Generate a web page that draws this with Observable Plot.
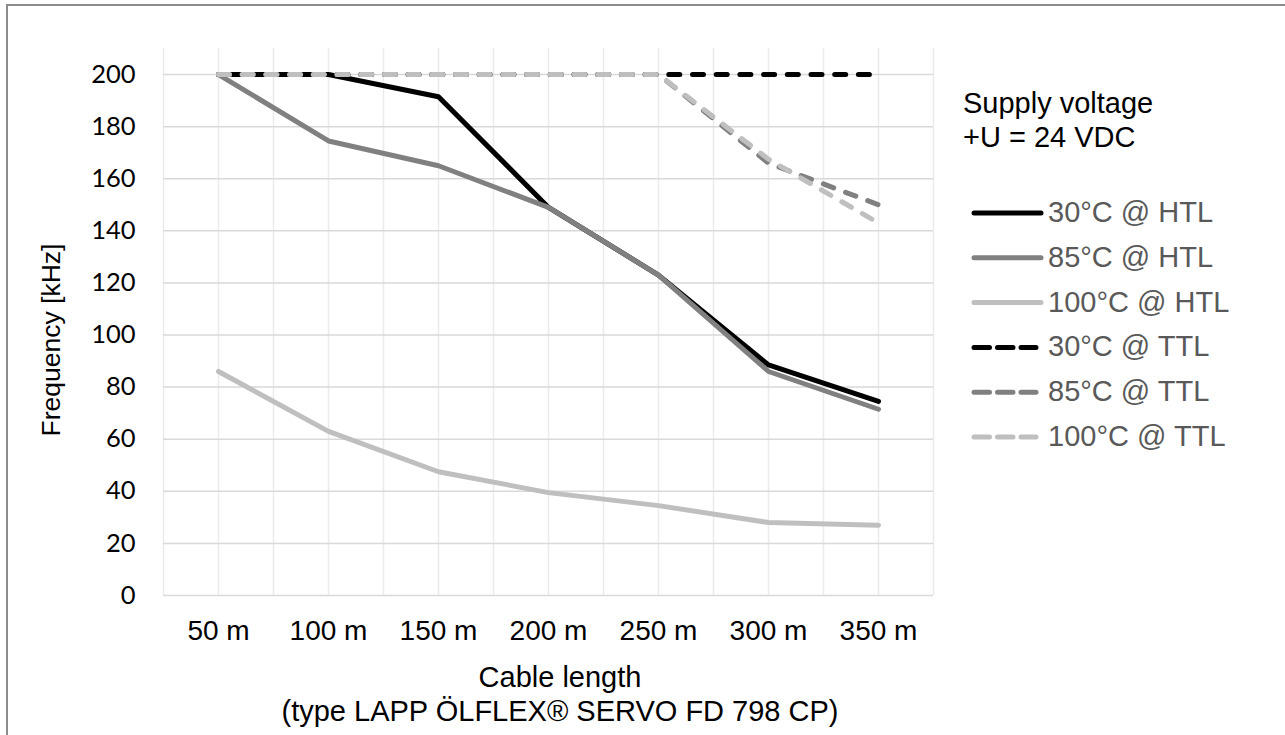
<!DOCTYPE html>
<html>
<head>
<meta charset="utf-8">
<script src="https://cdn.jsdelivr.net/npm/d3@7"></script>
<script src="https://cdn.jsdelivr.net/npm/@observablehq/plot@0.6"></script>
<style>
  html, body { margin: 0; padding: 0; background: #fff; }
  #wrap { position: relative; width: 1285px; height: 735px; overflow: hidden; }
  #frame { position: absolute; left: 6px; top: 4px; width: 1300px; height: 760px;
           border-left: 2px solid #8c8c8c; border-top: 2px solid #8c8c8c; pointer-events: none; }
  #wrap svg { position: absolute; left: 0; top: 0; }
</style>
</head>
<body>
<div id="wrap"><div id="frame"></div></div>
<script>
// ---- data ----
const lengths = ["50 m", "100 m", "150 m", "200 m", "250 m", "300 m", "350 m"];
const seriesNames = ["30°C @ HTL", "85°C @ HTL", "100°C @ HTL", "30°C @ TTL", "85°C @ TTL", "100°C @ TTL"];
const htl30  = [200, 200, 191.5, 149, 123, 88.5, 74.5];
const htl85  = [200, 174.5, 165, 149, 123, 86, 71.5];
const htl100 = [86, 63, 47.5, 39.5, 34.5, 28, 27];
const ttl30  = [200, 200, 200, 200, 200, 200, 200];
const ttl85  = [200, 200, 200, 200, 200, 166, 150];
const ttl100 = [200, 200, 200, 200, 200, 167.5, 143];
const yTicks = [0, 20, 40, 60, 80, 100, 120, 140, 160, 180, 200];

// ---- styles ----
const colors = ["#000000", "#808080", "#bfbfbf", "#000000", "#808080", "#bfbfbf"];
const dashed = [false, false, false, true, true, true];
const DASH = "11,12.7";
const LW = 5;

const allSeries = [htl30, htl85, htl100, ttl30, ttl85, ttl100];
const rows = allSeries.map((vals, s) => vals.map((v, i) => ({series: seriesNames[s], i, value: v})));

const W = 1285, H = 735;
const ML = 163, MR = 352, MT = 48, MB = 140;

const chart = Plot.plot({
  width: W, height: H,
  marginLeft: ML, marginRight: MR, marginTop: MT, marginBottom: MB,
  style: {background: "transparent", overflow: "visible"},
  x: {type: "linear", domain: [-0.5, lengths.length - 0.5]},
  y: {domain: [0, 210]},
  marks: [
    Plot.gridX(d3.range(-0.5, lengths.length - 0.49, 0.5), {stroke: "#ebebeb", strokeOpacity: 1, strokeWidth: 1.5}),
    Plot.gridY(yTicks, {stroke: "#d9d9d9", strokeOpacity: 1, strokeWidth: 1.5}),
    Plot.axisY(yTicks, {tickSize: 0, tickPadding: 28, fontSize: 25.5, fontFamily: "Lato", fill: "#000", label: null}),
    Plot.axisX(d3.range(lengths.length), {tickSize: 0, tickPadding: 25, fontSize: 28, fontFamily: "Liberation Sans, Arial",
      fill: "#000", tickFormat: i => lengths[i], label: null}),
    ...rows.map((r, s) => Plot.line(r, {
      x: "i", y: "value", stroke: colors[s], strokeWidth: LW,
      strokeDasharray: dashed[s] ? DASH : null,
      strokeLinecap: "round", strokeLinejoin: "round"
    }))
  ]
});

document.getElementById("wrap").insertBefore(chart, document.getElementById("frame"));

// ---- titles and legend (overlay) ----
const svg = d3.select(chart);
const font = "Liberation Sans, Arial, sans-serif";

svg.append("text")
  .attr("transform", "translate(60,340) rotate(-90)")
  .attr("text-anchor", "middle")
  .attr("font-family", font).attr("font-size", 26.5).attr("fill", "#000")
  .text("Frequency [kHz]");

svg.append("text")
  .attr("x", 560).attr("y", 687)
  .attr("text-anchor", "middle")
  .attr("font-family", font).attr("font-size", 29).attr("fill", "#000")
  .text("Cable length");
svg.append("text")
  .attr("x", 560).attr("y", 721)
  .attr("text-anchor", "middle")
  .attr("font-family", font).attr("font-size", 29).attr("fill", "#000")
  .text("(type LAPP ÖLFLEX® SERVO FD 798 CP)");

svg.append("text")
  .attr("x", 963).attr("y", 113)
  .attr("text-anchor", "start")
  .attr("font-family", font).attr("font-size", 29).attr("fill", "#000")
  .text("Supply voltage");
svg.append("text")
  .attr("x", 963).attr("y", 147)
  .attr("text-anchor", "start")
  .attr("font-family", font).attr("font-size", 29).attr("fill", "#000")
  .text("+U = 24 VDC");

const lg = svg.append("g");
seriesNames.forEach((name, s) => {
  const by = 222 + s * 44.8;
  lg.append("line")
    .attr("x1", 974).attr("x2", dashed[s] ? 1036 : 1041)
    .attr("y1", by - 9).attr("y2", by - 9)
    .attr("stroke", colors[s]).attr("stroke-width", LW)
    .attr("stroke-linecap", "round")
    .attr("stroke-dasharray", dashed[s] ? "15.5,8" : null);
  lg.append("text")
    .attr("x", 1048).attr("y", by)
    .attr("text-anchor", "start")
    .attr("font-family", font).attr("font-size", 29).attr("fill", "#595959")
    .text(name);
});
</script>
</body>
</html>
